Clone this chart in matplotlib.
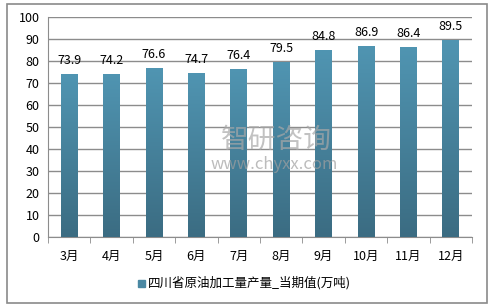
import matplotlib.pyplot as plt
import numpy as np
from matplotlib.patches import Rectangle
from matplotlib.colors import LinearSegmentedColormap

plt.rcParams['font.family'] = ['Noto Sans CJK SC', 'DejaVu Sans']

months = ['3月', '4月', '5月', '6月', '7月', '8月', '9月', '10月', '11月', '12月']
values = [73.9, 74.2, 76.6, 74.7, 76.4, 79.5, 84.8, 86.9, 86.4, 89.5]
series_name = '四川省原油加工量产量_当期值(万吨)'
y_ticks = [0, 10, 20, 30, 40, 50, 60, 70, 80, 90, 100]

fig = plt.figure(figsize=(4.94, 3.07), dpi=100)
fig.patch.set_facecolor('white')

# outer frame
fig.patches.append(Rectangle((7 / 494, 4 / 307), 480 / 494, 299 / 307,
                             transform=fig.transFigure, fill=False,
                             edgecolor='#8a8a8a', linewidth=1.2))

ax = fig.add_axes([48 / 494, 70 / 307, 424 / 494, 220 / 307])
x = np.arange(len(months))
bars = ax.bar(x, values, width=0.4, color='#4a88a3', zorder=3)

# vertical gradient on each bar
grad = np.linspace(0, 1, 256).reshape(-1, 1)
cmap = LinearSegmentedColormap.from_list('bar', ['#3b6c82', '#5095b2'])
for b in bars:
    bx, by = b.get_x(), b.get_y()
    w, h = b.get_width(), b.get_height()
    im = ax.imshow(grad, extent=[bx, bx + w, by, by + h], origin='lower',
                   cmap=cmap, aspect='auto', zorder=3)
    im.set_clip_path(b)
    b.set_facecolor('none')

for xi, v in zip(x, values):
    ax.text(xi, v + 3.2, f'{v}', ha='center', va='bottom', fontsize=9, color='black')

ax.set_xlim(-0.5, len(months) - 0.5)
ax.set_ylim(0, 100)
ax.set_yticks(y_ticks)
ax.tick_params(axis='y', length=0, labelsize=9, pad=6)
ax.yaxis.grid(True, color='#8c8c8c', linewidth=1, zorder=0)
ax.set_axisbelow(True)

ax.set_xticks(x)
ax.set_xticklabels(months, fontsize=9)
ax.set_xticks(np.arange(len(months) + 1) - 0.5, minor=True)
ax.tick_params(axis='x', which='major', length=0, pad=9)
ax.tick_params(axis='x', which='minor', length=4, color='#8c8c8c', direction='out')

for s in ['top', 'right']:
    ax.spines[s].set_visible(False)
ax.spines['left'].set_color('#8c8c8c')
ax.spines['bottom'].set_color('#8c8c8c')

# watermark
fig.text(0.56, 0.545, '智研咨询', fontsize=20, color='#a8a8a8', alpha=0.7,
         ha='center', va='center')
fig.text(0.555, 0.465, 'www.chyxx.com', fontsize=12, color='#a0a0a0', alpha=0.7,
         ha='center', va='center')

# legend
fig.patches.append(Rectangle((138 / 494, (307 - 287) / 307), 7 / 494, 7 / 307,
                             transform=fig.transFigure, color='#4a88a3'))
fig.text(148 / 494, (307 - 283) / 307, series_name, fontsize=9, va='center', ha='left')

plt.savefig('out.png', dpi=100)
